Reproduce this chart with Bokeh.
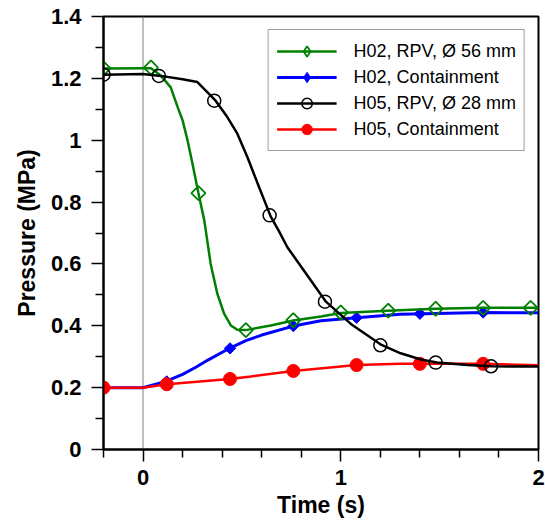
import numpy as np
from bokeh.plotting import figure
from bokeh.models import (FixedTicker, NumeralTickFormatter, Span, Legend, LegendItem, Range1d)
from bokeh.embed import file_html
from bokeh.resources import INLINE

# ---- data ----
# H02, RPV (line trace)
h02_rpv_t = [-0.2, 0.0, 0.04, 0.09, 0.14, 0.175, 0.2, 0.225, 0.25, 0.28, 0.31, 0.342, 0.376,
             0.41, 0.444, 0.477, 0.52, 0.646, 0.76, 0.9, 1.0, 1.236, 1.48, 1.72, 2.0]
h02_rpv_p = [1.232, 1.233, 1.233, 1.209, 1.171, 1.107, 1.064, 1.0, 0.924, 0.829, 0.740, 0.600, 0.503,
             0.439, 0.401, 0.387, 0.386, 0.401, 0.417, 0.430, 0.441, 0.449, 0.455, 0.458, 0.458]
h02_rpv_mt = [-0.2, 0.04, 0.28, 0.52, 0.76, 1.0, 1.24, 1.48, 1.72, 1.96]
h02_rpv_mp = [1.232, 1.235, 0.829, 0.386, 0.418, 0.443, 0.449, 0.455, 0.458, 0.458]

# H02, Containment
h02_con_t = [-0.2, 0.0, 0.115, 0.2, 0.267, 0.33, 0.44, 0.52, 0.6, 0.76, 0.9, 1.08, 1.3, 1.72, 2.0]
h02_con_p = [0.2, 0.2, 0.22, 0.243, 0.266, 0.29, 0.328, 0.352, 0.37, 0.399, 0.416, 0.426, 0.437, 0.443, 0.442]
h02_con_mt = [-0.2, 0.12, 0.44, 0.76, 1.08, 1.40, 1.72]
h02_con_mp = [0.2, 0.22, 0.327, 0.399, 0.426, 0.439, 0.443]

# H05, RPV
h05_rpv_t = [-0.2, 0.0, 0.09, 0.2, 0.275, 0.326, 0.368, 0.427, 0.477, 0.528, 0.587, 0.646, 0.688,
             0.73, 0.832, 0.925, 1.051, 1.206, 1.303, 1.405, 1.486, 1.641, 1.762, 2.0]
h05_rpv_p = [1.212, 1.214, 1.208, 1.197, 1.188, 1.155, 1.127, 1.074, 1.021, 0.945, 0.848, 0.753, 0.705,
             0.654, 0.562, 0.478, 0.406, 0.338, 0.311, 0.291, 0.281, 0.273, 0.269, 0.268]
h05_rpv_mt = [-0.2, 0.08, 0.36, 0.64, 0.92, 1.20, 1.48, 1.76]
h05_rpv_mp = [1.212, 1.208, 1.128, 0.757, 0.478, 0.337, 0.281, 0.269]

# H05, Containment
h05_con_t = [-0.2, 0.0, 0.12, 0.44, 0.545, 0.76, 1.08, 1.3, 1.72, 2.0]
h05_con_p = [0.2, 0.2, 0.211, 0.228, 0.236, 0.254, 0.273, 0.277, 0.277, 0.272]
h05_con_mt = [-0.2, 0.12, 0.44, 0.76, 1.08, 1.40, 1.72]
h05_con_mp = [0.2, 0.211, 0.228, 0.254, 0.273, 0.277, 0.277]

labels = ["H02, RPV, \u00d8 56 mm", "H02, Containment", "H05, RPV, \u00d8 28 mm", "H05, Containment"]

x_major = [0, 1, 2]
x_minor = [-0.2, 0.2, 0.4, 0.6, 0.8, 1.2, 1.4, 1.6, 1.8]
y_major = [0, 0.2, 0.4, 0.6, 0.8, 1.0, 1.2, 1.4]
y_minor = [0.1, 0.3, 0.5, 0.7, 0.9, 1.1, 1.3]

FONT = "Liberation Sans"

p = figure(frame_width=435, frame_height=433, output_backend="svg", toolbar_location=None,
           x_range=Range1d(-0.2, 2.0), y_range=Range1d(0, 1.4),
           min_border_left=103, min_border_right=8, min_border_top=16, min_border_bottom=77)
p.xgrid.visible = False
p.ygrid.visible = False
p.background_fill_color = "white"
p.border_fill_color = "white"
p.outline_line_color = "black"
p.outline_line_width = 2

for ax in (p.xaxis[0], p.yaxis[0]):
    ax.axis_line_width = 2
    ax.axis_line_color = "black"
    ax.major_tick_in = 0
    ax.minor_tick_in = 0
    ax.major_tick_out = 12
    ax.minor_tick_out = 8
    ax.major_tick_line_width = 1.5
    ax.minor_tick_line_width = 1.5
    ax.major_tick_line_color = "black"
    ax.minor_tick_line_color = "black"
    ax.major_label_text_font = FONT
    ax.major_label_text_font_style = "bold"
    ax.major_label_text_font_size = "22px"
    ax.major_label_text_color = "black"
    ax.axis_label_text_font = FONT
    ax.axis_label_text_font_style = "bold"
    ax.axis_label_text_font_size = "23px"
    ax.axis_label_text_color = "black"
    ax.formatter = NumeralTickFormatter(format="0.[0]")

p.xaxis.ticker = FixedTicker(ticks=x_major, minor_ticks=x_minor)
p.yaxis.ticker = FixedTicker(ticks=y_major, minor_ticks=y_minor)
p.xaxis.axis_label = "Time (s)"
p.yaxis.axis_label = "Pressure (MPa)"
p.xaxis.major_label_standoff = 8
p.yaxis.major_label_standoff = 10
p.xaxis.axis_label_standoff = 4
p.yaxis.axis_label_standoff = 8

p.add_layout(Span(location=0, dimension="height", line_color="gray", line_width=1, level="underlay"))

GREEN = "#008000"
BLUE = "#0000FF"
RED = "#FF0000"

l_blue = p.line(h02_con_t, h02_con_p, line_color=BLUE, line_width=3)
m_blue = p.scatter(h02_con_mt, h02_con_mp, marker="square", angle=np.pi / 4, size=8,
                   fill_color=BLUE, line_color=BLUE)
l_green = p.line(h02_rpv_t, h02_rpv_p, line_color=GREEN, line_width=2.5)
m_green = p.scatter(h02_rpv_mt, h02_rpv_mp, marker="square", angle=np.pi / 4, size=10,
                    fill_color="white", fill_alpha=0, line_color=GREEN, line_width=1.8)
l_red = p.line(h05_con_t, h05_con_p, line_color=RED, line_width=2.5)
m_red = p.scatter(h05_con_mt, h05_con_mp, marker="circle", size=13, fill_color=RED, line_color=RED)
l_black = p.line(h05_rpv_t, h05_rpv_p, line_color="black", line_width=2.5)
m_black = p.scatter(h05_rpv_mt, h05_rpv_mp, marker="circle", size=13, fill_alpha=0,
                    line_color="black", line_width=1.5)

# legend-only glyphs (NaN point, never drawn in the plot) so the legend shows diamonds
lg_green = p.scatter(x=[np.nan], y=[np.nan], marker="diamond", size=10, fill_alpha=0,
                     line_color=GREEN, line_width=1.8)
lg_blue = p.scatter(x=[np.nan], y=[np.nan], marker="diamond", size=10,
                    fill_color=BLUE, line_color=BLUE)

legend = Legend(items=[
    LegendItem(label=labels[0], renderers=[l_green, lg_green]),
    LegendItem(label=labels[1], renderers=[l_blue, lg_blue]),
    LegendItem(label=labels[2], renderers=[l_black, m_black]),
    LegendItem(label=labels[3], renderers=[l_red, m_red]),
], location="top_right")
legend.margin = 13
legend.padding = 8
legend.spacing = 0
legend.glyph_width = 60
legend.glyph_height = 26
legend.label_height = 20
legend.label_standoff = 17
legend.label_text_font = FONT
legend.label_text_font_size = "18px"
legend.label_text_color = "black"
legend.border_line_color = "#404040"
legend.border_line_width = 1
legend.background_fill_color = "white"
legend.background_fill_alpha = 1
p.add_layout(legend, "center")

open("out.html", "w").write(file_html(p, INLINE))
